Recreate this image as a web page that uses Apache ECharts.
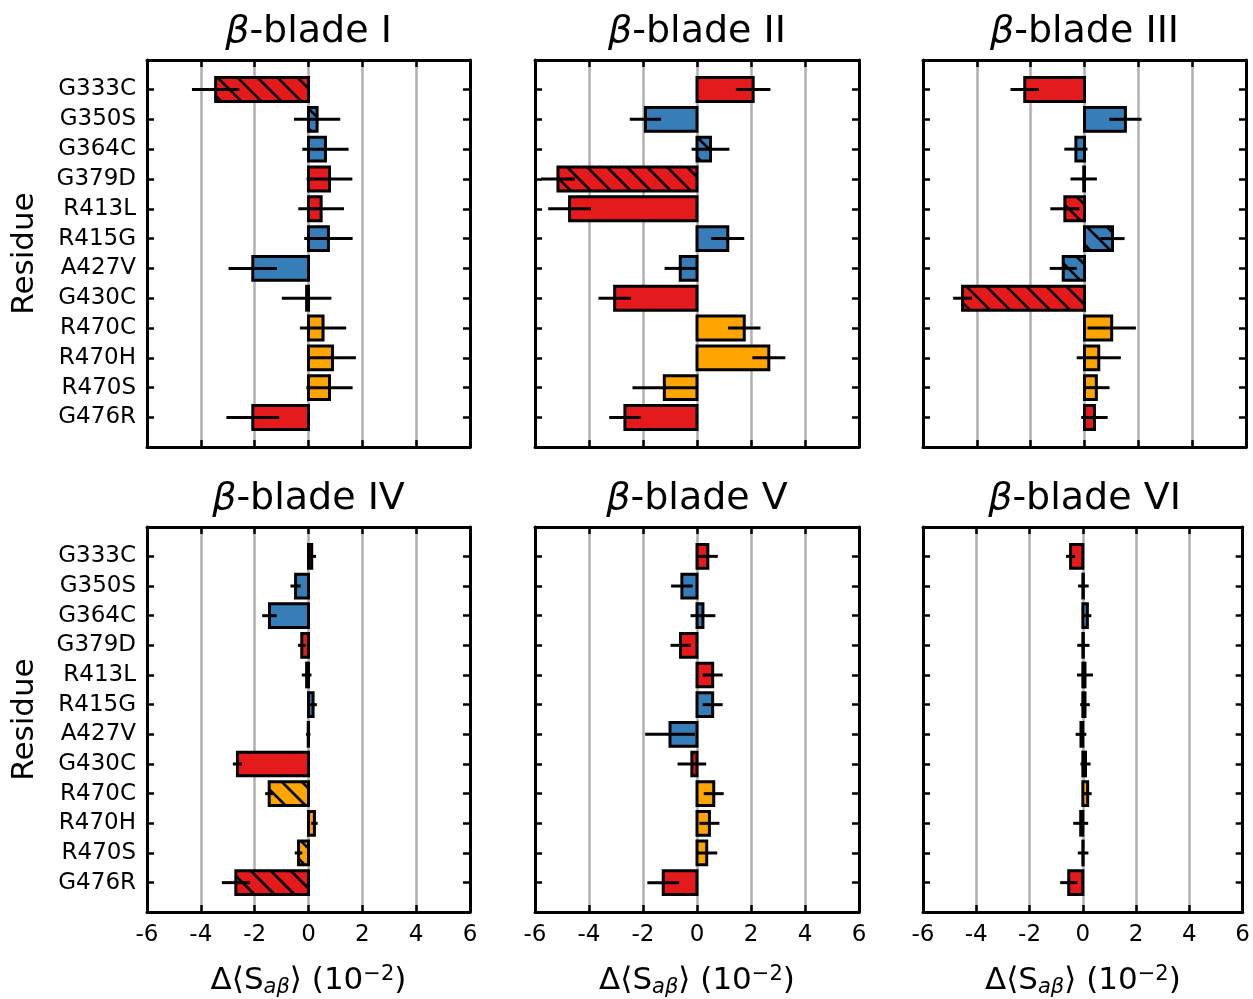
<!DOCTYPE html>
<html><head><meta charset="utf-8">
<script src="https://cdn.jsdelivr.net/npm/echarts@6/dist/echarts.min.js"></script>
<style>html,body{margin:0;padding:0;background:#fff}#c{width:1253px;height:999px}</style>
</head><body><div id="c"></div>
<script>
const residues = ['G333C','G350S','G364C','G379D','R413L','R415G','A427V','G430C','R470C','R470H','R470S','G476R'];
const residueGroup = ['red','blue','blue','red','red','blue','blue','red','orange','orange','orange','red'];
const xTicks = [-6,-4,-2,0,2,4,6];
const bladeNames = ['I','II','III','IV','V','VI'];

const blade1 = [-3.45, 0.32, 0.63, 0.78, 0.47, 0.74, -2.07, -0.07, 0.54, 0.89, 0.78, -2.07];
const err1   = [0.88, 0.86, 0.86, 0.85, 0.85, 0.90, 0.90, 0.92, 0.86, 0.87, 0.86, 0.98];
const hatch1 = ['G333C','G350S'];

const blade2 = [2.08, -1.91, 0.50, -5.15, -4.72, 1.14, -0.62, -3.05, 1.75, 2.66, -1.21, -2.67];
const err2   = [0.64, 0.58, 0.70, 0.63, 0.79, 0.61, 0.58, 0.60, 0.60, 0.61, 1.18, 0.58];
const hatch2 = ['G364C','G379D'];

const blade3 = [-2.22, 1.52, -0.32, -0.03, -0.73, 1.04, -0.79, -4.53, 1.01, 0.53, 0.44, 0.37];
const err3   = [0.53, 0.60, 0.43, 0.49, 0.54, 0.45, 0.50, 0.35, 0.90, 0.82, 0.49, 0.49];
const hatch3 = ['R413L','R415G','A427V','G430C'];

const blade4 = [0.12, -0.48, -1.45, -0.25, -0.07, 0.17, -0.01, -2.64, -1.46, 0.22, -0.37, -2.70];
const err4   = [0.16, 0.19, 0.27, 0.14, 0.18, 0.14, 0.08, 0.17, 0.15, 0.12, 0.14, 0.52];
const hatch4 = ['R470C','R470S','G476R'];

const blade5 = [0.40, -0.56, 0.22, -0.61, 0.58, 0.58, -1.00, -0.19, 0.62, 0.46, 0.36, -1.25];
const err5   = [0.37, 0.40, 0.46, 0.37, 0.37, 0.37, 0.92, 0.53, 0.37, 0.37, 0.39, 0.59];
const hatch5 = [];

const blade6 = [-0.46, 0.02, 0.17, 0.02, 0.08, 0.08, -0.07, 0.10, 0.18, -0.08, 0.01, -0.53];
const err6   = [0.17, 0.20, 0.15, 0.23, 0.30, 0.18, 0.20, 0.19, 0.15, 0.28, 0.20, 0.32];
const hatch6 = [];

const panels = [
  {vals: blade1, errs: err1, hatch: hatch1},
  {vals: blade2, errs: err2, hatch: hatch2},
  {vals: blade3, errs: err3, hatch: hatch3},
  {vals: blade4, errs: err4, hatch: hatch4},
  {vals: blade5, errs: err5, hatch: hatch5},
  {vals: blade6, errs: err6, hatch: hatch6}
];

const groupColors = {red: '#e41a1c', blue: '#377eb8', orange: '#ffa500'};
const colorList = residueGroup.map(g => groupColors[g]);
const FONT = 'DejaVu Sans';
const lefts = [147, 535, 923];
const widths = [323, 324, 323];
const tops = [60, 527];
const H = 387;
const HATCH = 20;

function renderItem(params, api) {
  const v = api.value(0), i = api.value(1), e = api.value(2), h = api.value(3), ci = api.value(4);
  const a = api.coord([0, i]), b = api.coord([v, i]);
  const bh = api.size([0, 0.8])[1];
  const x0 = Math.min(a[0], b[0]), x1 = Math.max(a[0], b[0]);
  const y0 = a[1] - bh / 2, y1 = a[1] + bh / 2;
  const children = [{type: 'rect', shape: {x: x0, y: y0, width: x1 - x0, height: bh}, style: {fill: colorList[ci]}}];
  if (h) {
    for (let c = Math.floor((x0 - y1) / HATCH) * HATCH; c <= x1 - y0; c += HATCH) {
      const ys = Math.max(y0, x0 - c), ye = Math.min(y1, x1 - c);
      if (ye > ys) children.push({type: 'line', shape: {x1: ys + c, y1: ys, x2: ye + c, y2: ye}, style: {stroke: '#000', lineWidth: 2.6}});
    }
  }
  children.push({type: 'rect', shape: {x: x0, y: y0, width: x1 - x0, height: bh}, style: {fill: 'none', stroke: '#000', lineWidth: 3}});
  const e0 = api.coord([v - e, i]), e1 = api.coord([v + e, i]);
  children.push({type: 'line', shape: {x1: e0[0], y1: e0[1], x2: e1[0], y2: e1[1]}, style: {stroke: '#000', lineWidth: 3}});
  return {type: 'group', children};
}

const grid = [], xAxis = [], yAxis = [], series = [], graphic = [];
panels.forEach((p, k) => {
  const col = k % 3, row = Math.floor(k / 3);
  grid.push({left: lefts[col], top: tops[row], width: widths[col], height: H, containLabel: false});
  const bottomRow = row === 1;
  xAxis.push({
    type: 'value', gridIndex: k, position: 'bottom', min: xTicks[0], max: xTicks[xTicks.length - 1], interval: 2,
    axisLine: {show: true, onZero: false, lineStyle: {color: '#000', width: 3}},
    axisTick: {show: true, inside: true, length: 7, lineStyle: {color: '#000', width: 2.5}},
    axisLabel: {show: bottomRow, color: '#000', fontSize: 23, fontFamily: FONT, margin: 12},
    splitLine: {show: true, showMinLine: false, showMaxLine: false, lineStyle: {color: '#b0b0b0', width: 2.5}},
    name: bottomRow ? 'Δ⟨S{sub|aβ}⟩ (10{sup|−2})' : '',
    nameLocation: 'middle', nameGap: 52,
    nameTextStyle: {color: '#000', fontSize: 31, fontFamily: FONT,
      rich: {sub: {fontSize: 21, fontStyle: 'italic', fontFamily: FONT, color: '#000', verticalAlign: 'bottom', padding: [13, 0, 0, 0]},
             sup: {fontSize: 21, fontFamily: FONT, color: '#000', verticalAlign: 'top', padding: [0, 0, 13, 0]}}}
  });
  xAxis.push({
    type: 'value', gridIndex: k, position: 'top', min: xTicks[0], max: xTicks[xTicks.length - 1], interval: 2,
    axisLine: {show: true, onZero: false, lineStyle: {color: '#000', width: 3}},
    axisTick: {show: true, inside: true, length: 7, lineStyle: {color: '#000', width: 2.5}},
    axisLabel: {show: false}, splitLine: {show: false}
  });
  const idx = residues.map((r, i) => i);
  yAxis.push({
    type: 'value', gridIndex: k, position: 'left', inverse: true, min: -0.99, max: 11.99,
    axisLine: {show: true, onZero: false, lineStyle: {color: '#000', width: 3}},
    axisTick: {show: true, inside: true, length: 7, customValues: idx, lineStyle: {color: '#000', width: 2.5}},
    axisLabel: {show: col === 0, customValues: idx, formatter: v => residues[Math.round(v)] || '', color: '#000', fontSize: 23, fontFamily: FONT, margin: 11},
    splitLine: {show: false},
    name: col === 0 ? 'Residue' : '', nameLocation: 'middle', nameGap: 107, nameRotate: 90,
    nameTextStyle: {color: '#000', fontSize: 31, fontFamily: FONT}
  });
  yAxis.push({
    type: 'value', gridIndex: k, position: 'right', inverse: true, min: -0.99, max: 11.99,
    axisLine: {show: true, onZero: false, lineStyle: {color: '#000', width: 3}},
    axisTick: {show: true, inside: true, length: 7, customValues: idx, lineStyle: {color: '#000', width: 2.5}},
    axisLabel: {show: false}, splitLine: {show: false}
  });
  series.push({
    type: 'custom', xAxisIndex: 2 * k, yAxisIndex: 2 * k, renderItem, clip: false,
    encode: {x: 0, y: 1},
    data: p.vals.map((v, i) => [v, i, p.errs[i], p.hatch.includes(residues[i]) ? 1 : 0, i]),
    z: 5
  });
  graphic.push({
    type: 'text', x: lefts[col] + widths[col] / 2, y: tops[row] - 28,
    style: {text: '{i|β}-blade ' + bladeNames[k], align: 'center', verticalAlign: 'middle',
      fontSize: 38, fontFamily: FONT, fill: '#000',
      rich: {i: {fontStyle: 'italic', fontSize: 38, fontFamily: FONT, fill: '#000'}}}
  });
});

const chart = echarts.init(document.getElementById('c'), null, {renderer: 'canvas'});
chart.setOption({backgroundColor: '#fff', animation: false, grid, xAxis, yAxis, series, graphic});
</script></body></html>
